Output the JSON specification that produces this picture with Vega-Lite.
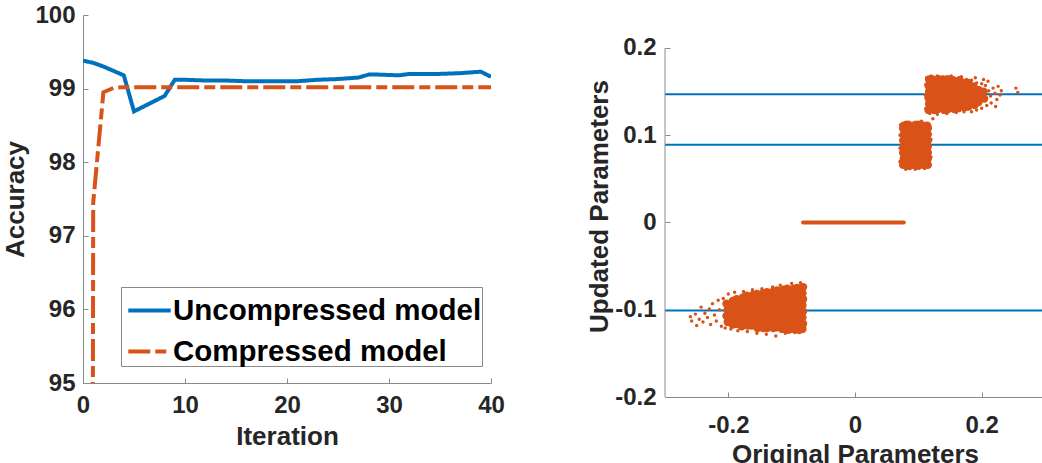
{
  "$schema": "https://vega.github.io/schema/vega-lite/v6.json",
  "padding": {"left": 2, "top": 3, "right": 0, "bottom": 0},
  "spacing": 81,
  "datasets": {
    "acc": [
      {"it": 0, "acc": 99.38, "model": "Uncompressed model"},
      {"it": 1, "acc": 99.35, "model": "Uncompressed model"},
      {"it": 2, "acc": 99.30, "model": "Uncompressed model"},
      {"it": 3, "acc": 99.24, "model": "Uncompressed model"},
      {"it": 4, "acc": 99.18, "model": "Uncompressed model"},
      {"it": 5, "acc": 98.69, "model": "Uncompressed model"},
      {"it": 6, "acc": 98.76, "model": "Uncompressed model"},
      {"it": 7, "acc": 98.83, "model": "Uncompressed model"},
      {"it": 8, "acc": 98.90, "model": "Uncompressed model"},
      {"it": 9, "acc": 99.12, "model": "Uncompressed model"},
      {"it": 10, "acc": 99.12, "model": "Uncompressed model"},
      {"it": 11, "acc": 99.115, "model": "Uncompressed model"},
      {"it": 12, "acc": 99.11, "model": "Uncompressed model"},
      {"it": 13, "acc": 99.11, "model": "Uncompressed model"},
      {"it": 14, "acc": 99.11, "model": "Uncompressed model"},
      {"it": 15, "acc": 99.105, "model": "Uncompressed model"},
      {"it": 16, "acc": 99.10, "model": "Uncompressed model"},
      {"it": 17, "acc": 99.10, "model": "Uncompressed model"},
      {"it": 18, "acc": 99.10, "model": "Uncompressed model"},
      {"it": 19, "acc": 99.10, "model": "Uncompressed model"},
      {"it": 20, "acc": 99.10, "model": "Uncompressed model"},
      {"it": 21, "acc": 99.10, "model": "Uncompressed model"},
      {"it": 22, "acc": 99.11, "model": "Uncompressed model"},
      {"it": 23, "acc": 99.12, "model": "Uncompressed model"},
      {"it": 24, "acc": 99.125, "model": "Uncompressed model"},
      {"it": 25, "acc": 99.13, "model": "Uncompressed model"},
      {"it": 26, "acc": 99.14, "model": "Uncompressed model"},
      {"it": 27, "acc": 99.15, "model": "Uncompressed model"},
      {"it": 28, "acc": 99.19, "model": "Uncompressed model"},
      {"it": 29, "acc": 99.19, "model": "Uncompressed model"},
      {"it": 30, "acc": 99.185, "model": "Uncompressed model"},
      {"it": 31, "acc": 99.18, "model": "Uncompressed model"},
      {"it": 32, "acc": 99.20, "model": "Uncompressed model"},
      {"it": 33, "acc": 99.20, "model": "Uncompressed model"},
      {"it": 34, "acc": 99.20, "model": "Uncompressed model"},
      {"it": 35, "acc": 99.20, "model": "Uncompressed model"},
      {"it": 36, "acc": 99.205, "model": "Uncompressed model"},
      {"it": 37, "acc": 99.21, "model": "Uncompressed model"},
      {"it": 38, "acc": 99.22, "model": "Uncompressed model"},
      {"it": 39, "acc": 99.23, "model": "Uncompressed model"},
      {"it": 40, "acc": 99.16, "model": "Uncompressed model"},
      {"it": 0, "acc": 10.0, "model": "Compressed model"},
      {"it": 1, "acc": 97.45, "model": "Compressed model"},
      {"it": 2, "acc": 98.95, "model": "Compressed model"},
      {"it": 3, "acc": 99.01, "model": "Compressed model"},
      {"it": 4, "acc": 99.02, "model": "Compressed model"},
      {"it": 10, "acc": 99.02, "model": "Compressed model"},
      {"it": 20, "acc": 99.02, "model": "Compressed model"},
      {"it": 30, "acc": 99.02, "model": "Compressed model"},
      {"it": 40, "acc": 99.02, "model": "Compressed model"}
    ],
    "levels": [{"y": 0.147}, {"y": 0.089}, {"y": -0.101}],
    "zero": [{"x": -0.082, "x2": 0.077, "y": 0}],
    "yaxisline": [{"x": -0.3, "y": -0.2, "y2": 0.2}],
    "core": [
      {"x": -0.082, "y": -0.074}, {"x": -0.083, "y": -0.081}, {"x": -0.082, "y": -0.088}, {"x": -0.083, "y": -0.095}, {"x": -0.082, "y": -0.102}, {"x": -0.083, "y": -0.109}, {"x": -0.082, "y": -0.116}, {"x": -0.083, "y": -0.122},
      {"x": -0.091, "y": -0.075}, {"x": -0.089, "y": -0.082}, {"x": -0.091, "y": -0.089}, {"x": -0.089, "y": -0.096}, {"x": -0.091, "y": -0.103}, {"x": -0.089, "y": -0.110}, {"x": -0.091, "y": -0.117}, {"x": -0.089, "y": -0.123},
      {"x": -0.097, "y": -0.076}, {"x": -0.099, "y": -0.083}, {"x": -0.097, "y": -0.090}, {"x": -0.099, "y": -0.097}, {"x": -0.097, "y": -0.104}, {"x": -0.099, "y": -0.111}, {"x": -0.097, "y": -0.118}, {"x": -0.099, "y": -0.122},
      {"x": -0.107, "y": -0.076}, {"x": -0.105, "y": -0.083}, {"x": -0.107, "y": -0.090}, {"x": -0.105, "y": -0.097}, {"x": -0.107, "y": -0.104}, {"x": -0.105, "y": -0.111}, {"x": -0.107, "y": -0.118}, {"x": -0.105, "y": -0.123},
      {"x": -0.113, "y": -0.077}, {"x": -0.115, "y": -0.084}, {"x": -0.113, "y": -0.091}, {"x": -0.115, "y": -0.098}, {"x": -0.113, "y": -0.105}, {"x": -0.115, "y": -0.112}, {"x": -0.113, "y": -0.118}, {"x": -0.115, "y": -0.122},
      {"x": -0.123, "y": -0.078}, {"x": -0.121, "y": -0.085}, {"x": -0.123, "y": -0.092}, {"x": -0.121, "y": -0.099}, {"x": -0.123, "y": -0.106}, {"x": -0.121, "y": -0.113}, {"x": -0.123, "y": -0.120},
      {"x": -0.129, "y": -0.079}, {"x": -0.131, "y": -0.086}, {"x": -0.129, "y": -0.093}, {"x": -0.131, "y": -0.100}, {"x": -0.129, "y": -0.107}, {"x": -0.131, "y": -0.114}, {"x": -0.129, "y": -0.121},
      {"x": -0.139, "y": -0.080}, {"x": -0.137, "y": -0.087}, {"x": -0.139, "y": -0.094}, {"x": -0.137, "y": -0.101}, {"x": -0.139, "y": -0.108}, {"x": -0.137, "y": -0.115}, {"x": -0.139, "y": -0.121},
      {"x": -0.145, "y": -0.081}, {"x": -0.147, "y": -0.088}, {"x": -0.145, "y": -0.095}, {"x": -0.147, "y": -0.102}, {"x": -0.145, "y": -0.109}, {"x": -0.147, "y": -0.116}, {"x": -0.145, "y": -0.121},
      {"x": -0.155, "y": -0.082}, {"x": -0.153, "y": -0.089}, {"x": -0.155, "y": -0.096}, {"x": -0.153, "y": -0.103}, {"x": -0.155, "y": -0.110}, {"x": -0.153, "y": -0.117}, {"x": -0.154, "y": -0.121},
      {"x": -0.161, "y": -0.083}, {"x": -0.163, "y": -0.090}, {"x": -0.161, "y": -0.097}, {"x": -0.163, "y": -0.104}, {"x": -0.161, "y": -0.111}, {"x": -0.163, "y": -0.118},
      {"x": -0.171, "y": -0.084}, {"x": -0.169, "y": -0.091}, {"x": -0.171, "y": -0.098}, {"x": -0.169, "y": -0.105}, {"x": -0.171, "y": -0.112}, {"x": -0.169, "y": -0.118},
      {"x": -0.177, "y": -0.086}, {"x": -0.179, "y": -0.093}, {"x": -0.177, "y": -0.100}, {"x": -0.179, "y": -0.107}, {"x": -0.177, "y": -0.114}, {"x": -0.179, "y": -0.119},
      {"x": -0.187, "y": -0.088}, {"x": -0.185, "y": -0.095}, {"x": -0.187, "y": -0.102}, {"x": -0.185, "y": -0.109}, {"x": -0.187, "y": -0.116},
      {"x": -0.193, "y": -0.090}, {"x": -0.195, "y": -0.097}, {"x": -0.193, "y": -0.104}, {"x": -0.195, "y": -0.111}, {"x": -0.193, "y": -0.117},
      {"x": -0.203, "y": -0.093}, {"x": -0.201, "y": -0.100}, {"x": -0.203, "y": -0.107}, {"x": -0.201, "y": -0.114},
      {"x": 0.076, "y": 0.066}, {"x": 0.077, "y": 0.073}, {"x": 0.076, "y": 0.080}, {"x": 0.077, "y": 0.087}, {"x": 0.076, "y": 0.094}, {"x": 0.077, "y": 0.101}, {"x": 0.076, "y": 0.108}, {"x": 0.077, "y": 0.111},
      {"x": 0.084, "y": 0.065}, {"x": 0.083, "y": 0.072}, {"x": 0.085, "y": 0.079}, {"x": 0.083, "y": 0.086}, {"x": 0.085, "y": 0.093}, {"x": 0.083, "y": 0.100}, {"x": 0.085, "y": 0.107}, {"x": 0.084, "y": 0.112},
      {"x": 0.092, "y": 0.066}, {"x": 0.091, "y": 0.072}, {"x": 0.093, "y": 0.079}, {"x": 0.091, "y": 0.086}, {"x": 0.093, "y": 0.093}, {"x": 0.091, "y": 0.100}, {"x": 0.093, "y": 0.107}, {"x": 0.092, "y": 0.111},
      {"x": 0.100, "y": 0.065}, {"x": 0.099, "y": 0.072}, {"x": 0.101, "y": 0.079}, {"x": 0.099, "y": 0.086}, {"x": 0.101, "y": 0.093}, {"x": 0.099, "y": 0.100}, {"x": 0.101, "y": 0.107}, {"x": 0.100, "y": 0.112},
      {"x": 0.108, "y": 0.066}, {"x": 0.107, "y": 0.072}, {"x": 0.109, "y": 0.079}, {"x": 0.107, "y": 0.086}, {"x": 0.109, "y": 0.093}, {"x": 0.107, "y": 0.100}, {"x": 0.109, "y": 0.107}, {"x": 0.108, "y": 0.111},
      {"x": 0.115, "y": 0.066}, {"x": 0.115, "y": 0.073}, {"x": 0.115, "y": 0.080}, {"x": 0.115, "y": 0.087}, {"x": 0.115, "y": 0.094}, {"x": 0.115, "y": 0.101}, {"x": 0.115, "y": 0.108}, {"x": 0.114, "y": 0.111},
      {"x": 0.116, "y": 0.129}, {"x": 0.117, "y": 0.136}, {"x": 0.116, "y": 0.143}, {"x": 0.117, "y": 0.150}, {"x": 0.116, "y": 0.157}, {"x": 0.117, "y": 0.164},
      {"x": 0.125, "y": 0.129}, {"x": 0.123, "y": 0.136}, {"x": 0.125, "y": 0.143}, {"x": 0.123, "y": 0.150}, {"x": 0.125, "y": 0.157}, {"x": 0.123, "y": 0.164},
      {"x": 0.131, "y": 0.130}, {"x": 0.133, "y": 0.137}, {"x": 0.131, "y": 0.144}, {"x": 0.133, "y": 0.151}, {"x": 0.131, "y": 0.158}, {"x": 0.133, "y": 0.164},
      {"x": 0.141, "y": 0.129}, {"x": 0.139, "y": 0.136}, {"x": 0.141, "y": 0.143}, {"x": 0.139, "y": 0.150}, {"x": 0.141, "y": 0.157}, {"x": 0.139, "y": 0.164},
      {"x": 0.147, "y": 0.130}, {"x": 0.149, "y": 0.137}, {"x": 0.147, "y": 0.144}, {"x": 0.149, "y": 0.151}, {"x": 0.147, "y": 0.158}, {"x": 0.149, "y": 0.164},
      {"x": 0.157, "y": 0.130}, {"x": 0.155, "y": 0.137}, {"x": 0.157, "y": 0.144}, {"x": 0.155, "y": 0.151}, {"x": 0.157, "y": 0.158}, {"x": 0.155, "y": 0.163},
      {"x": 0.163, "y": 0.131}, {"x": 0.165, "y": 0.138}, {"x": 0.163, "y": 0.145}, {"x": 0.165, "y": 0.152}, {"x": 0.163, "y": 0.159}, {"x": 0.165, "y": 0.163},
      {"x": 0.173, "y": 0.132}, {"x": 0.171, "y": 0.139}, {"x": 0.173, "y": 0.146}, {"x": 0.171, "y": 0.153}, {"x": 0.173, "y": 0.160},
      {"x": 0.179, "y": 0.133}, {"x": 0.181, "y": 0.140}, {"x": 0.179, "y": 0.147}, {"x": 0.181, "y": 0.154}, {"x": 0.179, "y": 0.160},
      {"x": 0.189, "y": 0.135}, {"x": 0.187, "y": 0.142}, {"x": 0.189, "y": 0.149}, {"x": 0.187, "y": 0.156},
      {"x": 0.195, "y": 0.138}, {"x": 0.197, "y": 0.145}, {"x": 0.195, "y": 0.152},
      {"x": 0.204, "y": 0.142}, {"x": 0.203, "y": 0.150}
    ],
    "fringe": [
      {"x": -0.26, "y": -0.108}, {"x": -0.258, "y": -0.113}, {"x": -0.252, "y": -0.105}, {"x": -0.25, "y": -0.118}, {"x": -0.246, "y": -0.111}, {"x": -0.243, "y": -0.097}, {"x": -0.24, "y": -0.114}, {"x": -0.237, "y": -0.104}, {"x": -0.233, "y": -0.109}, {"x": -0.23, "y": -0.099}, {"x": -0.228, "y": -0.117}, {"x": -0.225, "y": -0.093}, {"x": -0.222, "y": -0.106}, {"x": -0.219, "y": -0.113}, {"x": -0.216, "y": -0.089}, {"x": -0.214, "y": -0.1}, {"x": -0.211, "y": -0.119}, {"x": -0.208, "y": -0.087}, {"x": -0.205, "y": -0.121}, {"x": -0.2, "y": -0.082}, {"x": -0.196, "y": -0.122}, {"x": -0.19, "y": -0.08}, {"x": -0.185, "y": -0.124}, {"x": -0.176, "y": -0.079}, {"x": -0.17, "y": -0.125}, {"x": -0.162, "y": -0.077}, {"x": -0.155, "y": -0.127}, {"x": -0.147, "y": -0.076}, {"x": -0.14, "y": -0.128}, {"x": -0.13, "y": -0.074}, {"x": -0.125, "y": -0.13}, {"x": -0.118, "y": -0.072}, {"x": -0.11, "y": -0.127}, {"x": -0.1, "y": -0.07}, {"x": -0.095, "y": -0.126}, {"x": -0.086, "y": -0.069}, {"x": -0.087, "y": -0.126},
      {"x": 0.071, "y": 0.07}, {"x": 0.071, "y": 0.085}, {"x": 0.071, "y": 0.1}, {"x": 0.072, "y": 0.112}, {"x": 0.08, "y": 0.115}, {"x": 0.095, "y": 0.115}, {"x": 0.105, "y": 0.116}, {"x": 0.12, "y": 0.075}, {"x": 0.12, "y": 0.095}, {"x": 0.119, "y": 0.108}, {"x": 0.08, "y": 0.061}, {"x": 0.095, "y": 0.061}, {"x": 0.11, "y": 0.062}, {"x": 0.087, "y": 0.062},
      {"x": 0.112, "y": 0.131}, {"x": 0.111, "y": 0.146}, {"x": 0.112, "y": 0.158}, {"x": 0.113, "y": 0.166}, {"x": 0.12, "y": 0.168}, {"x": 0.13, "y": 0.168}, {"x": 0.145, "y": 0.167}, {"x": 0.152, "y": 0.168}, {"x": 0.168, "y": 0.167}, {"x": 0.176, "y": 0.164}, {"x": 0.184, "y": 0.163}, {"x": 0.192, "y": 0.16}, {"x": 0.2, "y": 0.159}, {"x": 0.206, "y": 0.157}, {"x": 0.211, "y": 0.151}, {"x": 0.214, "y": 0.145}, {"x": 0.218, "y": 0.154}, {"x": 0.221, "y": 0.148}, {"x": 0.224, "y": 0.141}, {"x": 0.226, "y": 0.156}, {"x": 0.229, "y": 0.146}, {"x": 0.231, "y": 0.151}, {"x": 0.215, "y": 0.137}, {"x": 0.222, "y": 0.133}, {"x": 0.208, "y": 0.134}, {"x": 0.2, "y": 0.131}, {"x": 0.192, "y": 0.129}, {"x": 0.184, "y": 0.127}, {"x": 0.172, "y": 0.127}, {"x": 0.16, "y": 0.126}, {"x": 0.145, "y": 0.125}, {"x": 0.13, "y": 0.124}, {"x": 0.118, "y": 0.125}, {"x": 0.254, "y": 0.154}, {"x": 0.257, "y": 0.149}, {"x": 0.123, "y": 0.119}, {"x": 0.21, "y": 0.162}, {"x": 0.203, "y": 0.164}, {"x": 0.19, "y": 0.166}, {"x": 0.188, "y": 0.132}
    ]
  },
  "hconcat": [
    {
      "width": 408,
      "height": 368,
      "data": {"name": "acc"},
      "mark": {"type": "line", "strokeWidth": 4, "clip": true},
      "encoding": {
        "x": {"field": "it", "type": "quantitative", "title": "Iteration",
              "scale": {"domain": [0, 40], "nice": false},
              "axis": {"values": [0, 10, 20, 30, 40], "labelPadding": 15, "titlePadding": 6}},
        "y": {"field": "acc", "type": "quantitative", "title": "Accuracy",
              "scale": {"domain": [95, 100], "nice": false, "zero": false},
              "axis": {"values": [95, 96, 97, 98, 99, 100], "labelPadding": 13, "titlePadding": 6}},
        "color": {"field": "model", "type": "nominal",
                  "scale": {"domain": ["Uncompressed model", "Compressed model"], "range": ["#0072BD", "#D95319"]},
                  "legend": {"title": null, "orient": "none", "legendX": 38, "legendY": 272}},
        "strokeDash": {"field": "model", "type": "nominal",
                       "scale": {"domain": ["Uncompressed model", "Compressed model"], "range": [[1, 0], [22, 5, 11, 5]]},
                       "legend": {"title": null, "orient": "none", "legendX": 38, "legendY": 272}}
      }
    },
    {
      "width": 380,
      "height": 382,
      "layer": [
        {
          "data": {"name": "levels"},
          "mark": {"type": "rule", "color": "#0072BD", "strokeWidth": 2},
          "encoding": {
            "y": {"field": "y", "type": "quantitative"}
          }
        },
        {
          "data": {"name": "yaxisline"},
          "mark": {"type": "rule", "color": "#8a8a8a", "strokeWidth": 1},
          "encoding": {
            "x": {"field": "x", "type": "quantitative"},
            "y": {"field": "y", "type": "quantitative"},
            "y2": {"field": "y2"}
          }
        },
        {
          "data": {"name": "zero"},
          "mark": {"type": "rule", "color": "#D95319", "strokeWidth": 4, "strokeCap": "round"},
          "encoding": {
            "x": {"field": "x", "type": "quantitative"},
            "x2": {"field": "x2"},
            "y": {"field": "y", "type": "quantitative"}
          }
        },
        {
          "data": {"name": "core"},
          "mark": {"type": "point", "shape": "circle", "filled": true, "opacity": 1, "size": 70, "color": "#D95319"},
          "encoding": {
            "x": {"field": "x", "type": "quantitative"},
            "y": {"field": "y", "type": "quantitative"}
          }
        },
        {
          "data": {"name": "fringe"},
          "mark": {"type": "point", "shape": "circle", "filled": true, "opacity": 1, "size": 12, "color": "#D95319"},
          "encoding": {
            "x": {"field": "x", "type": "quantitative", "title": "Original Parameters",
                  "scale": {"domain": [-0.3, 0.3], "nice": false, "zero": false},
                  "axis": {"values": [-0.2, 0, 0.2], "labelPadding": 21, "titlePadding": 4,
                           "labelExpr": "datum.value == 0 ? '0' : (datum.value < 0 ? '-' : '') + format(abs(datum.value), '.1f')"}},
            "y": {"field": "y", "type": "quantitative", "title": "Updated Parameters",
                  "scale": {"domain": [-0.2, 0.2378], "nice": false, "zero": false},
                  "axis": {"values": [-0.2, -0.1, 0, 0.1, 0.2], "labelPadding": 14, "titlePadding": 2, "domain": false,
                           "labelExpr": "datum.value == 0 ? '0' : (datum.value < 0 ? '-' : '') + format(abs(datum.value), '.1f')"}}
          }
        }
      ]
    }
  ],
  "config": {
    "view": {"stroke": null},
    "axis": {
      "grid": false,
      "domainColor": "#8a8a8a",
      "tickColor": "#8a8a8a",
      "tickSize": -5,
      "labelFlush": false,
      "labelFont": "Liberation Sans",
      "labelFontWeight": "bold",
      "labelFontSize": 24,
      "labelColor": "#262626",
      "titleFont": "Liberation Sans",
      "titleFontWeight": "bold",
      "titleFontSize": 26,
      "titleColor": "#262626"
    },
    "legend": {
      "symbolType": "stroke",
      "symbolStrokeWidth": 4,
      "symbolSize": 1800,
      "symbolOffset": 5,
      "labelFont": "Liberation Sans",
      "labelFontWeight": "bold",
      "labelFontSize": 29.5,
      "labelColor": "#000000",
      "labelLimit": 0,
      "labelOffset": 0,
      "rowPadding": 3,
      "padding": 0,
      "strokeColor": "#8a8a8a",
      "fillColor": "#ffffff"
    }
  }
}
